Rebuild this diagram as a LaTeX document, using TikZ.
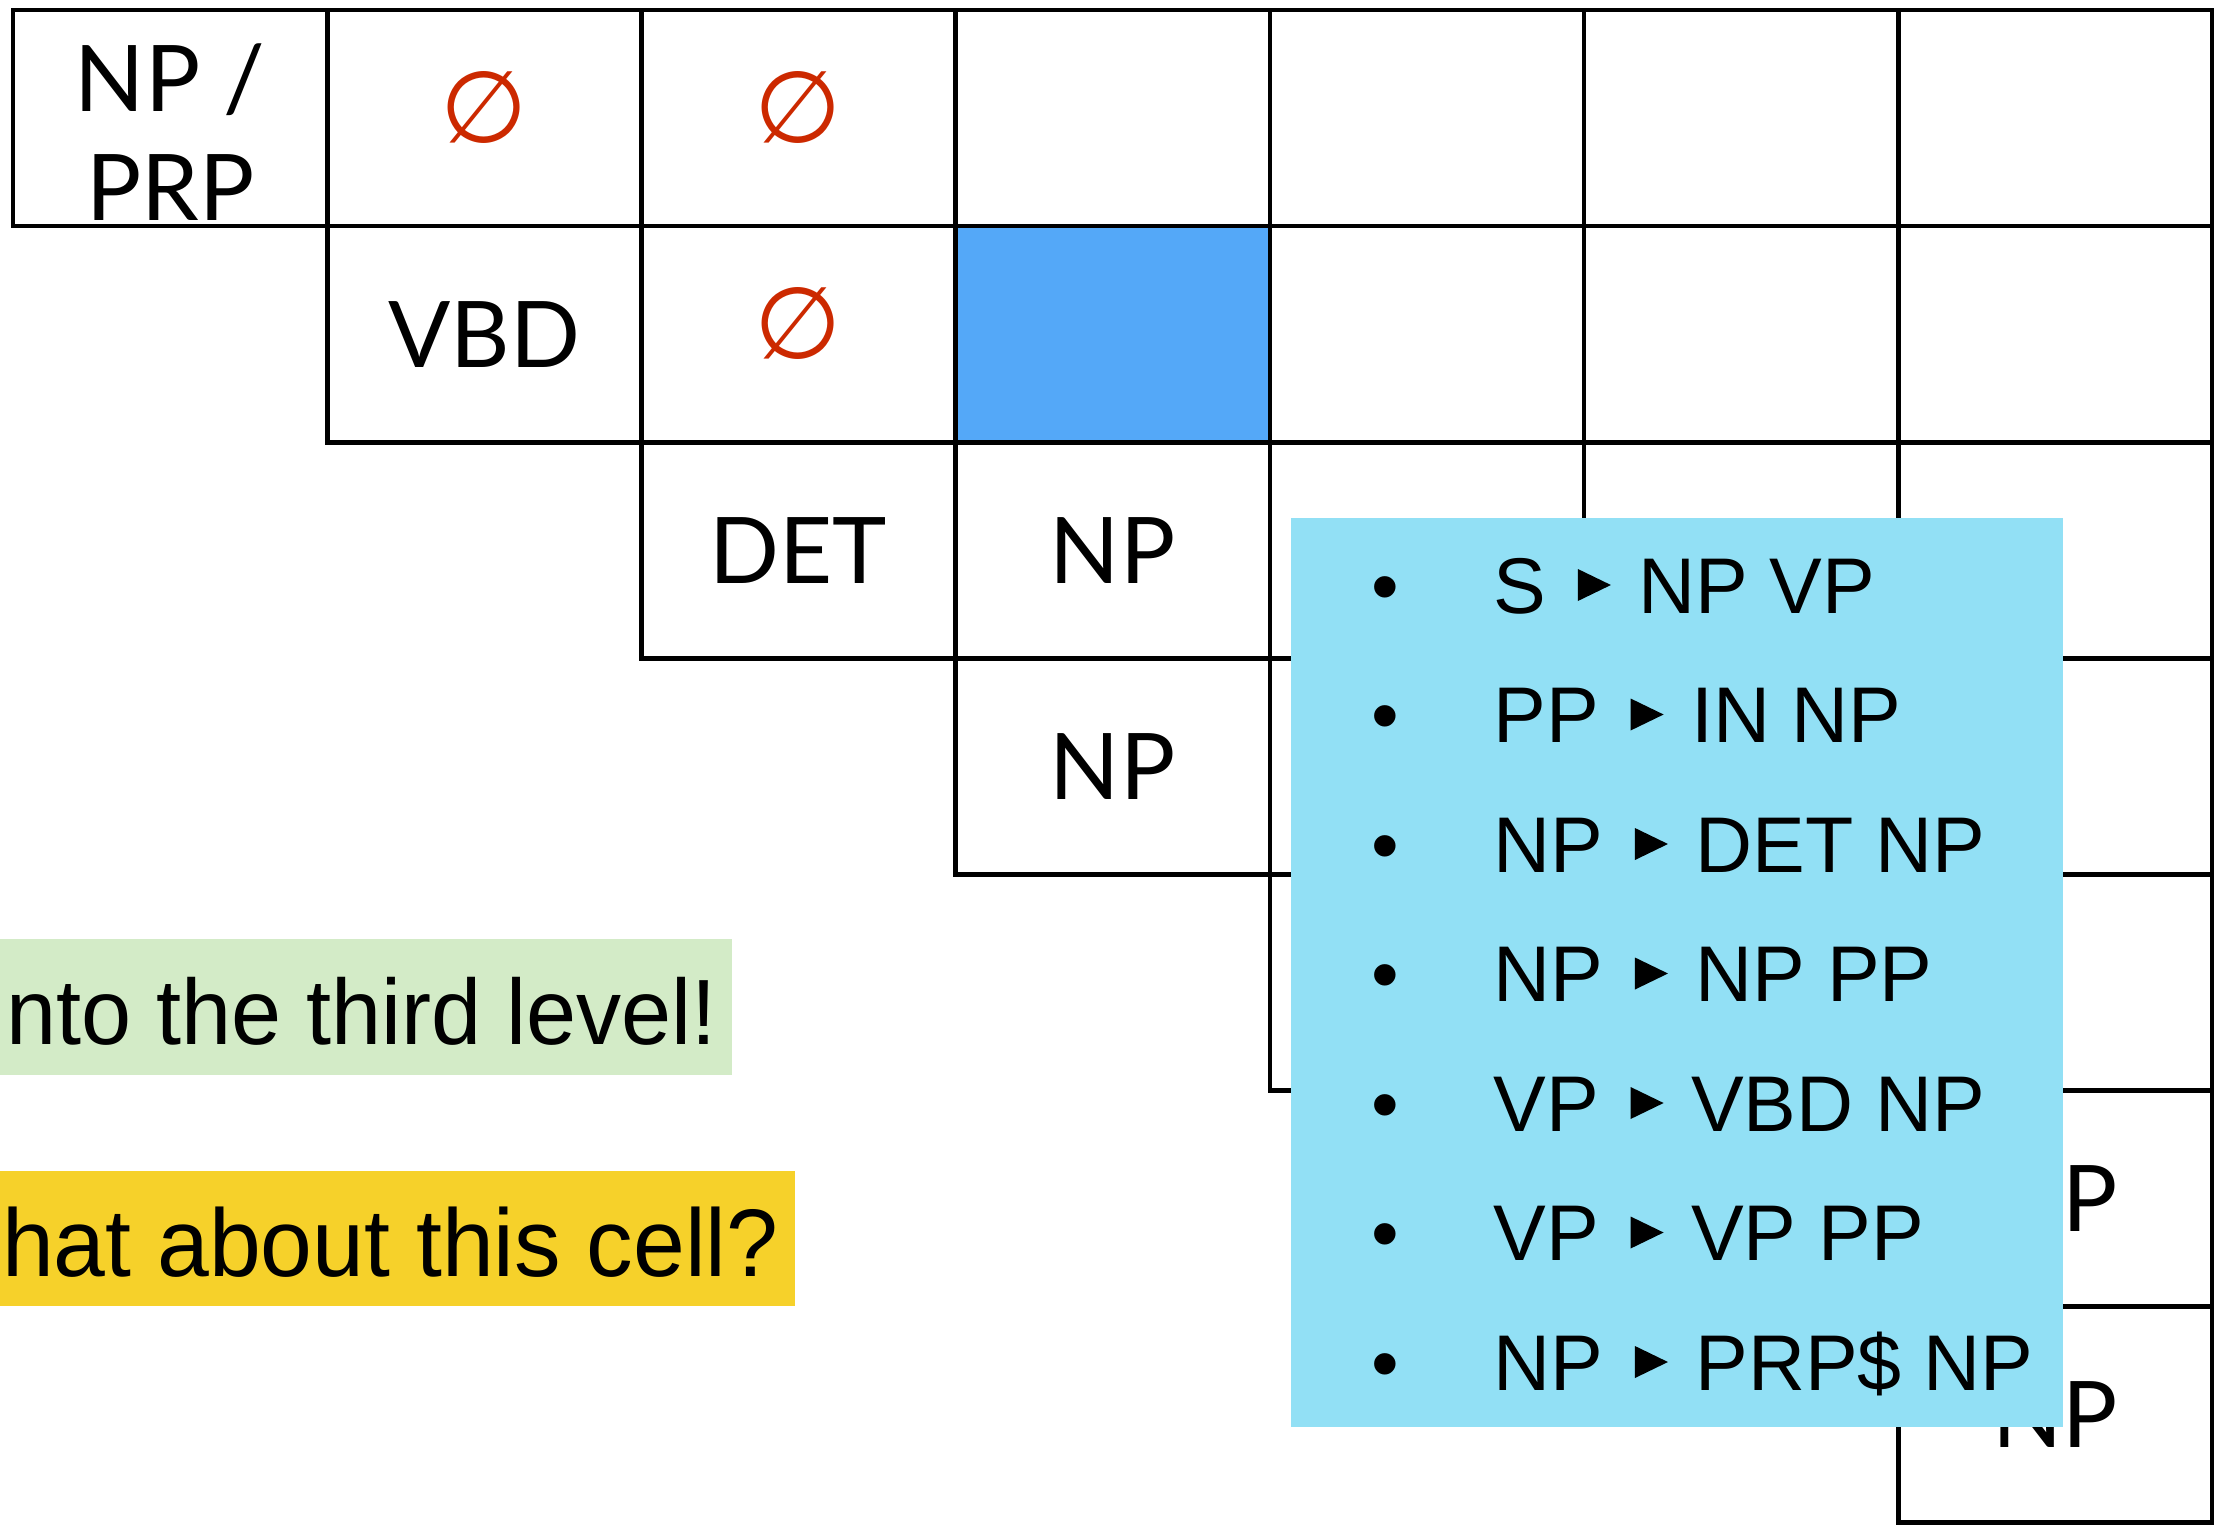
\documentclass[tikz,border=0pt]{standalone}
\usepackage{fontspec}
\usetikzlibrary{positioning,shapes.geometric}
\setmainfont{Liberation Sans}
\newfontfamily\gillfont{Lato}
\newfontfamily\symfont{DejaVu Sans}
\newfontfamily\notefont[FakeStretch=0.97]{Liberation Sans}
\definecolor{hlblue}{HTML}{54A8F8}
\definecolor{boxblue}{HTML}{92E0F5}
\definecolor{nullred}{HTML}{CC2900}
\definecolor{notegreen}{HTML}{D3EBC7}
\definecolor{noteyellow}{HTML}{F6D12A}
\tikzset{
  cell/.style={draw,line width=2.3pt,minimum width=157.1pt,minimum height=108.05pt,inner sep=0pt},
  tag/.style={font=\gillfont\fontsize{46}{54.5}\selectfont,align=center,inner sep=0pt},
  nul/.style={text=nullred,font=\symfont\fontsize{50}{50}\selectfont,inner sep=0pt,yshift=5.5pt},
  prod/.style={font=\fontsize{39.5}{39.5}\selectfont,inner sep=0pt,text height=28pt,text depth=0pt},
  tri/.style={isosceles triangle,isosceles triangle stretches,fill,inner sep=0pt,minimum width=16pt,minimum height=16.5pt},
  note/.style={font=\notefont\fontsize{48}{48}\selectfont,inner sep=0pt,anchor=base east}
}
\begin{document}
\begin{tikzpicture}[x=0.5pt,y=-0.5pt]
\useasboundingbox (0,0) rectangle (2214,1525);
\clip (0,0) rectangle (2214,1525);
\foreach \r in {0,...,6}
  \foreach \c in {\r,...,6}
    \node[cell] (c\r\c) at ({13+314.2*(\c+0.5)},{10+216.1*(\r+0.5)}) {};
\node[cell,fill=hlblue] (hl) at (c13) {};
\node[tag,yshift=-7pt] (t00) at (c00) {NP /\\PRP};
\node[nul] (t01) at (c01) {∅};
\node[nul] (t02) at (c02) {∅};
\node[tag] (t11) at (c11) {VBD};
\node[nul] (t12) at (c12) {∅};
\node[tag] (t22) at (c22) {DET};
\node[tag] (t23) at (c23) {NP};
\node[tag] (t33) at (c33) {NP};
\node[tag] (t56) at (c56) {NP};
\node[tag] (t66) at (c66) {NP};
\fill[notegreen] (0,939) rectangle (732,1075);
\node[note,font=\notefont\fontsize{46.4}{48}\selectfont] (lvl) at (717,1044) {nto the third level!};
\fill[noteyellow] (0,1171) rectangle (795,1306);
\node[note] (ask) at (779,1276) {hat about this cell?};
\node[fill=boxblue,minimum width=386pt,minimum height=454.5pt,inner sep=0pt,anchor=north west] (rules) at (1291,518) {};
\foreach \lhs/\rhs [count=\i from 0] in {S/NP VP,PP/IN NP,NP/DET NP,NP/NP PP,VP/VBD NP,VP/VP PP,NP/PRP\$ NP}{
  \node[prod,anchor=base] (b\i) at (1385,613+129.5*\i) {•};
  \node[prod,anchor=base west] (l\i) at (1493,613+129.5*\i) {\lhs};
  \node[tri,right=15.5pt of l\i] (a\i) {};
  \node[prod,right=13pt of a\i] (r\i) {\rhs};
}
\end{tikzpicture}
\end{document}
